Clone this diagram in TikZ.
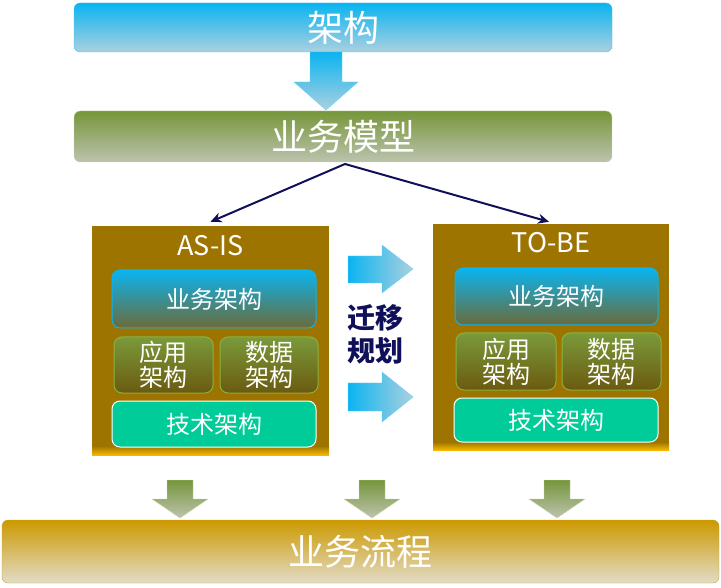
\documentclass[tikz,border=0pt]{standalone}
\usepackage{fontspec}
\setmainfont{Noto Sans CJK SC}
\usetikzlibrary{arrows.meta}
\definecolor{bluetop}{HTML}{0AB4F0}
\definecolor{bluebot}{HTML}{ABD0E0}
\definecolor{greentop}{HTML}{76963A}
\definecolor{greenbot}{HTML}{BCC3AE}
\definecolor{goldfill}{HTML}{9E7400}
\definecolor{goldstrip}{HTML}{F5B800}
\definecolor{innerbot}{HTML}{6B6B3A}
\definecolor{apptop}{HTML}{7A9A3A}
\definecolor{appbot}{HTML}{6B5A10}
\definecolor{appborder}{HTML}{8CB040}
\definecolor{techfill}{HTML}{00CC99}
\definecolor{flowtop}{HTML}{CC9900}
\definecolor{flowbot}{HTML}{E2DCC8}
\definecolor{navy}{HTML}{10105A}
\tikzset{
  bigbox/.style={rounded corners=6pt, inner sep=0pt, text=white, font=\fontsize{36}{40}\selectfont},
  topbox/.style={bigbox, draw=bluetop!80, top color=bluetop, bottom color=bluebot},
  modelbox/.style={bigbox, draw=greentop!40, top color=greentop, bottom color=greenbot},
  flowbox/.style={bigbox, draw=flowtop!90, top color=flowtop, bottom color=flowbot},
  frame/.style={fill=goldfill, inner sep=0pt},
  bizbox/.style={rounded corners=8pt, draw=bluetop, line width=1pt, top color=bluetop, bottom color=innerbot, text=white, inner sep=0pt, font=\fontsize{24}{28}\selectfont},
  appbox/.style={rounded corners=8pt, draw=appborder, line width=1pt, top color=apptop, bottom color=appbot, text=white, inner sep=0pt, align=center, font=\fontsize{24}{25}\selectfont},
  techbox/.style={rounded corners=8pt, draw=white, line width=1pt, fill=techfill, text=white, inner sep=0pt, font=\fontsize{24}{28}\selectfont},
  title/.style={text=white, font=\fontsize{27}{30}\selectfont},
  conn/.style={draw=navy, line width=2pt, -{Stealth[length=11pt,width=10pt]}},
  downblue/.style={top color=bluetop, bottom color=bluebot, draw=bluetop!60},
  downgreen/.style={top color=greentop, bottom color=greenbot, draw=greentop!40},
  rightblue/.style={left color=bluetop, right color=bluebot, draw=bluetop!60},
}
\begin{document}
\begin{tikzpicture}[x=1pt,y=-1pt]
\useasboundingbox (0,0) rectangle (721,588);
% top boxes
\node[topbox, minimum width=538pt, minimum height=49pt] (arch) at (343,27.5) {架构};
\node[modelbox, minimum width=538pt, minimum height=51pt] (model) at (343,136.5) {业务模型};
% blue down arrow
\path[downblue] (310,52) -- (342,52) -- (342,82) -- (358,82) -- (326,110) -- (294,82) -- (310,82) -- cycle;
% AS-IS frame
\node[frame, minimum width=237pt, minimum height=229pt] (asis) at (210.5,340.5) {};
\shade[top color=goldfill, bottom color=goldstrip] (92,446) rectangle (329,455);
\node[title] (asist) at (210.5,246) {AS-IS};
\node[bizbox, minimum width=204pt, minimum height=58pt] (abiz) at (214,299) {业务架构};
\node[appbox, minimum width=99pt, minimum height=56pt] (aapp) at (163.5,365) {应用\\架构};
\node[appbox, minimum width=98pt, minimum height=56pt] (adata) at (269,365) {数据\\架构};
\node[techbox, minimum width=204pt, minimum height=46pt] (atech) at (214,424) {技术架构};
% TO-BE frame
\node[frame, minimum width=236pt, minimum height=226pt] (tobe) at (551,337) {};
\shade[top color=goldfill, bottom color=goldstrip] (433,442) rectangle (669,450);
\node[title] (tobet) at (551,243) {TO-BE};
\node[bizbox, minimum width=203pt, minimum height=57pt] (tbiz) at (556.5,296.5) {业务架构};
\node[appbox, minimum width=100pt, minimum height=57pt] (tapp) at (506,361.5) {应用\\架构};
\node[appbox, minimum width=99pt, minimum height=57pt] (tdata) at (611.5,361.5) {数据\\架构};
\node[techbox, minimum width=204pt, minimum height=44pt] (ttech) at (556,420) {技术架构};
% connectors
\coordinate (split) at (345,164);
\draw[conn] (split) -- ([yshift=4pt]asis.north);
\draw[conn] (split) -- ([xshift=-2pt,yshift=2pt]tobe.north);
% migration arrows
\path[rightblue] (348,256) -- (382,256) -- (382,245) -- (413,269) -- (382,293) -- (382,283) -- (348,283) -- cycle;
\path[rightblue] (348,383) -- (382,383) -- (382,372) -- (413,397) -- (382,422) -- (382,411) -- (348,411) -- cycle;
\node[text=navy, align=center, font=\fontsize{28}{33}\selectfont\bfseries] (mig) at (375,334) {迁移\\规划};
% bottom box
\node[flowbox, minimum width=717pt, minimum height=63pt] (flow) at (360.5,551.5) {业务流程};
% green down arrows
\foreach \cx in {180,372,557}{
  \path[downgreen] (\cx-13,480) -- (\cx+13,480) -- (\cx+13,499) -- (\cx+28,499) -- (\cx,518) -- (\cx-28,499) -- (\cx-13,499) -- cycle;
}
\end{tikzpicture}
\end{document}
